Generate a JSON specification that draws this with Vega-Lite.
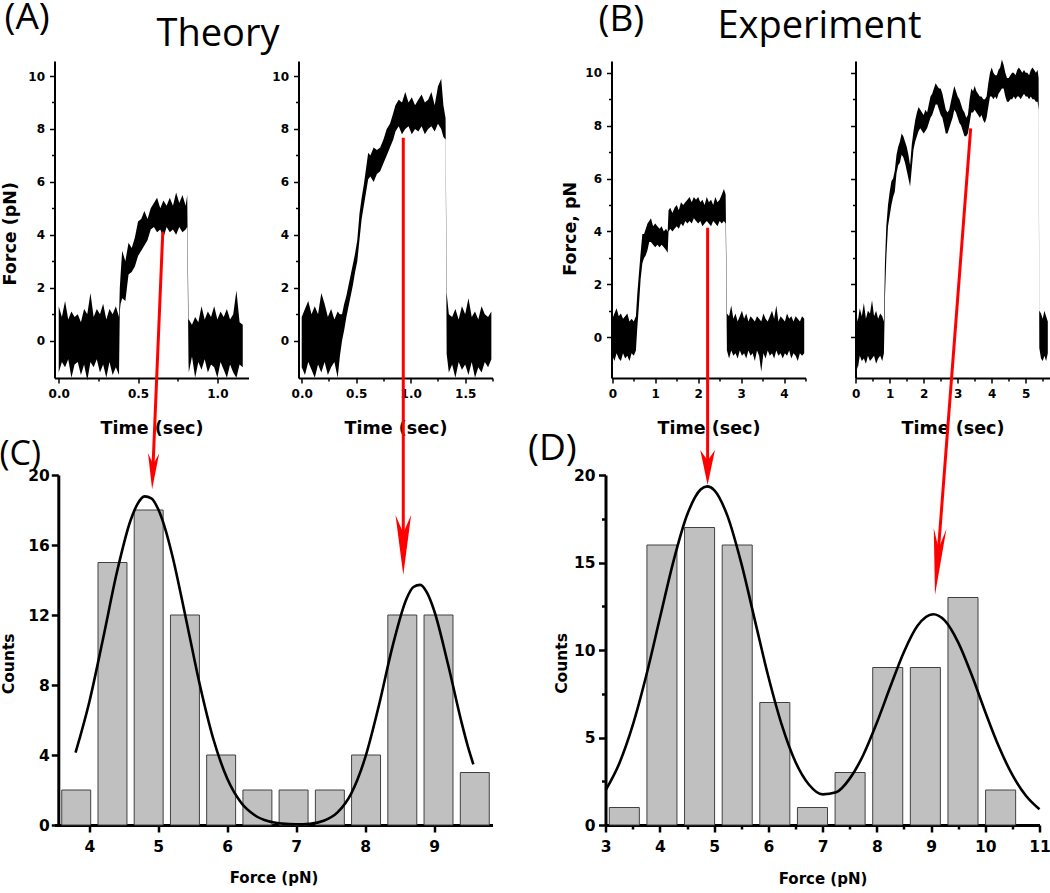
{
  "$schema": "https://vega.github.io/schema/vega-lite/v6.json",
  "autosize": {"type": "none"},
  "padding": {"left": 54.5, "top": 61, "right": 995.5, "bottom": 832},
  "background": "white",
  "config": {
    "view": {"stroke": null},
    "axis": {"domainColor": "black", "tickColor": "black", "labelColor": "black", "titleColor": "black", "labelFont": "DejaVu Sans", "titleFont": "DejaVu Sans", "labelFontWeight": "bold", "titleFontWeight": "bold", "grid": false, "labelFlush": false, "labelOverlap": false, "labelBound": false, "tickCount": 100},
    "title": {"font": "Open Sans", "fontWeight": "normal", "color": "black"}
  },
  "bounds": "flush",
  "spacing": 414,
  "datasets": {
    "a1": [
      {"t":0.00,"lo":-1.2,"hi":1.3},{"t":0.02,"lo":-0.8,"hi":0.9},{"t":0.04,"lo":-1.0,"hi":1.5},{"t":0.06,"lo":-0.7,"hi":0.8},{"t":0.08,"lo":-1.4,"hi":1.1},{"t":0.10,"lo":-0.9,"hi":0.9},{"t":0.12,"lo":-0.8,"hi":1.0},{"t":0.14,"lo":-1.3,"hi":0.7},{"t":0.16,"lo":-0.9,"hi":1.2},{"t":0.18,"lo":-1.5,"hi":1.0},{"t":0.20,"lo":-0.8,"hi":1.8},{"t":0.22,"lo":-1.0,"hi":0.9},{"t":0.24,"lo":-0.7,"hi":1.2},{"t":0.26,"lo":-1.2,"hi":1.0},{"t":0.28,"lo":-0.9,"hi":1.4},{"t":0.30,"lo":-1.4,"hi":0.8},{"t":0.32,"lo":-0.8,"hi":1.2},{"t":0.34,"lo":-1.3,"hi":1.0},{"t":0.36,"lo":-1.0,"hi":1.3},{"t":0.38,"lo":-1.3,"hi":0.9},
      {"t":0.385,"lo":1.1,"hi":2.0},{"t":0.39,"lo":1.4,"hi":2.5},{"t":0.40,"lo":1.6,"hi":3.4},{"t":0.42,"lo":1.5,"hi":3.0},{"t":0.44,"lo":2.5,"hi":3.7},{"t":0.46,"lo":2.6,"hi":3.5},{"t":0.48,"lo":2.8,"hi":3.9},{"t":0.50,"lo":3.2,"hi":4.5},{"t":0.52,"lo":3.4,"hi":4.6},{"t":0.54,"lo":3.6,"hi":4.9},{"t":0.56,"lo":3.8,"hi":4.6},{"t":0.58,"lo":4.2,"hi":5.0},{"t":0.60,"lo":4.3,"hi":5.2},{"t":0.62,"lo":4.1,"hi":5.4},{"t":0.64,"lo":4.2,"hi":5.0},{"t":0.66,"lo":3.9,"hi":5.3},{"t":0.68,"lo":4.3,"hi":5.1},{"t":0.70,"lo":4.1,"hi":5.4},{"t":0.72,"lo":4.2,"hi":5.1},{"t":0.74,"lo":4.0,"hi":5.6},{"t":0.76,"lo":4.3,"hi":5.2},{"t":0.78,"lo":4.1,"hi":5.5},{"t":0.80,"lo":4.2,"hi":5.1},{"t":0.81,"lo":4.3,"hi":5.5},
      {"t":0.818,"lo":-0.8,"hi":0.8},{"t":0.82,"lo":-1.2,"hi":0.8},{"t":0.84,"lo":-0.6,"hi":0.6},{"t":0.86,"lo":-1.4,"hi":0.9},{"t":0.88,"lo":-0.8,"hi":0.7},{"t":0.90,"lo":-1.1,"hi":1.3},{"t":0.92,"lo":-0.7,"hi":0.8},{"t":0.94,"lo":-1.2,"hi":1.1},{"t":0.96,"lo":-0.9,"hi":0.9},{"t":0.98,"lo":-1.0,"hi":1.3},{"t":1.00,"lo":-1.4,"hi":0.8},{"t":1.02,"lo":-0.8,"hi":1.1},{"t":1.04,"lo":-1.1,"hi":0.9},{"t":1.06,"lo":-1.4,"hi":1.2},{"t":1.08,"lo":-0.9,"hi":0.8},{"t":1.10,"lo":-1.2,"hi":1.0},{"t":1.12,"lo":-1.4,"hi":1.9},{"t":1.14,"lo":-0.9,"hi":0.7},{"t":1.16,"lo":-1.0,"hi":0.6}
    ],
    "a2": [
      {"t":0.00,"lo":-1.0,"hi":0.9},{"t":0.03,"lo":-1.3,"hi":1.2},{"t":0.06,"lo":-0.8,"hi":1.5},{"t":0.09,"lo":-1.1,"hi":1.0},{"t":0.12,"lo":-1.4,"hi":1.3},{"t":0.15,"lo":-0.9,"hi":1.0},{"t":0.18,"lo":-1.2,"hi":1.8},{"t":0.21,"lo":-0.8,"hi":1.4},{"t":0.24,"lo":-1.3,"hi":0.9},{"t":0.27,"lo":-1.0,"hi":1.2},{"t":0.30,"lo":-0.8,"hi":0.8},{"t":0.33,"lo":-1.4,"hi":1.1},{"t":0.35,"lo":-0.6,"hi":1.0},
      {"t":0.37,"lo":0.0,"hi":1.0},{"t":0.39,"lo":0.4,"hi":1.4},{"t":0.41,"lo":0.9,"hi":1.7},{"t":0.43,"lo":1.3,"hi":2.1},{"t":0.45,"lo":1.7,"hi":2.5},{"t":0.47,"lo":2.1,"hi":2.9},{"t":0.49,"lo":2.6,"hi":3.3},{"t":0.51,"lo":3.0,"hi":3.8},{"t":0.53,"lo":3.8,"hi":4.8},{"t":0.55,"lo":4.6,"hi":5.4},{"t":0.57,"lo":5.1,"hi":5.9},{"t":0.59,"lo":5.6,"hi":6.5},{"t":0.61,"lo":6.1,"hi":7.1},{"t":0.63,"lo":6.2,"hi":7.0},{"t":0.66,"lo":6.0,"hi":7.3},{"t":0.69,"lo":6.3,"hi":7.2},{"t":0.72,"lo":6.4,"hi":7.3},{"t":0.75,"lo":6.7,"hi":7.6},{"t":0.78,"lo":7.0,"hi":8.0},{"t":0.81,"lo":7.3,"hi":8.2},{"t":0.84,"lo":7.6,"hi":8.6},{"t":0.86,"lo":7.9,"hi":8.9},{"t":0.89,"lo":8.1,"hi":9.1},{"t":0.92,"lo":7.8,"hi":9.0},{"t":0.95,"lo":8.0,"hi":9.4},{"t":0.98,"lo":8.1,"hi":9.0},{"t":1.01,"lo":7.8,"hi":9.2},{"t":1.04,"lo":8.0,"hi":8.9},{"t":1.07,"lo":7.9,"hi":9.1},{"t":1.10,"lo":8.1,"hi":9.3},{"t":1.13,"lo":7.8,"hi":9.0},{"t":1.16,"lo":8.0,"hi":9.1},{"t":1.19,"lo":8.1,"hi":9.4},{"t":1.22,"lo":7.9,"hi":8.9},{"t":1.25,"lo":8.2,"hi":9.6},{"t":1.28,"lo":8.0,"hi":9.9},{"t":1.30,"lo":7.7,"hi":8.9},{"t":1.32,"lo":7.6,"hi":8.4},
      {"t":1.33,"lo":-0.5,"hi":1.8},{"t":1.35,"lo":-1.2,"hi":1.0},{"t":1.38,"lo":-0.9,"hi":0.9},{"t":1.41,"lo":-1.4,"hi":1.2},{"t":1.44,"lo":-0.8,"hi":0.8},{"t":1.47,"lo":-1.1,"hi":1.3},{"t":1.50,"lo":-0.9,"hi":1.0},{"t":1.53,"lo":-1.3,"hi":1.6},{"t":1.56,"lo":-0.8,"hi":0.9},{"t":1.59,"lo":-1.4,"hi":1.1},{"t":1.62,"lo":-1.0,"hi":0.8},{"t":1.65,"lo":-1.2,"hi":1.3},{"t":1.68,"lo":-0.8,"hi":1.0},{"t":1.71,"lo":-1.0,"hi":0.9},{"t":1.74,"lo":-0.7,"hi":1.1}
    ],
    "b1": [
      {"t":0.00,"lo":-0.7,"hi":0.7},{"t":0.05,"lo":-0.9,"hi":0.9},{"t":0.10,"lo":-0.6,"hi":1.1},{"t":0.15,"lo":-0.8,"hi":0.8},{"t":0.20,"lo":-0.9,"hi":0.9},{"t":0.25,"lo":-0.6,"hi":0.7},{"t":0.30,"lo":-0.8,"hi":0.8},{"t":0.35,"lo":-0.7,"hi":0.9},{"t":0.40,"lo":-0.9,"hi":0.6},{"t":0.45,"lo":-0.6,"hi":0.7},{"t":0.50,"lo":-0.7,"hi":0.6},{"t":0.55,"lo":-0.5,"hi":0.8},
      {"t":0.58,"lo":0.3,"hi":1.6},{"t":0.62,"lo":1.2,"hi":2.4},{"t":0.66,"lo":2.2,"hi":3.2},{"t":0.70,"lo":2.8,"hi":3.9},{"t":0.74,"lo":3.0,"hi":3.9},{"t":0.78,"lo":3.1,"hi":4.1},{"t":0.82,"lo":3.3,"hi":4.3},{"t":0.86,"lo":3.6,"hi":4.4},{"t":0.90,"lo":3.6,"hi":4.5},{"t":0.95,"lo":3.5,"hi":4.2},{"t":1.00,"lo":3.4,"hi":4.3},{"t":1.05,"lo":3.5,"hi":4.2},{"t":1.10,"lo":3.4,"hi":4.1},{"t":1.15,"lo":3.5,"hi":4.2},{"t":1.20,"lo":3.4,"hi":4.0},{"t":1.25,"lo":3.3,"hi":4.1},{"t":1.29,"lo":3.2,"hi":4.0},
      {"t":1.31,"lo":4.0,"hi":4.8},{"t":1.35,"lo":4.1,"hi":4.9},{"t":1.40,"lo":4.0,"hi":4.7},{"t":1.45,"lo":4.1,"hi":4.9},{"t":1.50,"lo":4.2,"hi":5.0},{"t":1.55,"lo":4.1,"hi":4.8},{"t":1.60,"lo":4.3,"hi":5.1},{"t":1.65,"lo":4.2,"hi":5.0},{"t":1.70,"lo":4.4,"hi":5.1},{"t":1.75,"lo":4.3,"hi":5.2},{"t":1.80,"lo":4.4,"hi":5.3},{"t":1.85,"lo":4.3,"hi":5.1},{"t":1.90,"lo":4.5,"hi":5.3},{"t":1.95,"lo":4.4,"hi":5.2},{"t":2.00,"lo":4.3,"hi":5.3},{"t":2.05,"lo":4.4,"hi":5.1},{"t":2.10,"lo":4.2,"hi":5.2},{"t":2.15,"lo":4.3,"hi":5.0},{"t":2.20,"lo":4.4,"hi":5.3},{"t":2.25,"lo":4.3,"hi":5.1},{"t":2.30,"lo":4.2,"hi":5.2},{"t":2.35,"lo":4.4,"hi":5.0},{"t":2.40,"lo":4.3,"hi":5.3},{"t":2.45,"lo":4.2,"hi":5.1},{"t":2.50,"lo":4.4,"hi":5.2},{"t":2.55,"lo":4.3,"hi":5.4},{"t":2.60,"lo":4.4,"hi":5.6},{"t":2.64,"lo":4.3,"hi":5.4},
      {"t":2.67,"lo":-0.5,"hi":0.9},{"t":2.72,"lo":-0.8,"hi":0.8},{"t":2.77,"lo":-0.5,"hi":1.2},{"t":2.82,"lo":-0.7,"hi":0.7},{"t":2.87,"lo":-0.6,"hi":0.9},{"t":2.92,"lo":-0.8,"hi":0.6},{"t":2.97,"lo":-0.5,"hi":0.8},{"t":3.02,"lo":-0.7,"hi":1.0},{"t":3.07,"lo":-0.6,"hi":0.7},{"t":3.12,"lo":-0.8,"hi":0.9},{"t":3.17,"lo":-0.5,"hi":0.6},{"t":3.22,"lo":-0.7,"hi":0.8},{"t":3.27,"lo":-0.6,"hi":0.7},{"t":3.32,"lo":-0.9,"hi":0.6},{"t":3.37,"lo":-0.5,"hi":0.8},{"t":3.42,"lo":-0.7,"hi":0.7},{"t":3.47,"lo":-1.3,"hi":0.6},{"t":3.52,"lo":-0.6,"hi":0.9},{"t":3.57,"lo":-0.8,"hi":0.7},{"t":3.62,"lo":-0.5,"hi":0.6},{"t":3.67,"lo":-0.7,"hi":0.8},{"t":3.72,"lo":-0.6,"hi":1.0},{"t":3.77,"lo":-0.8,"hi":0.7},{"t":3.82,"lo":-0.5,"hi":1.2},{"t":3.87,"lo":-0.7,"hi":0.6},{"t":3.92,"lo":-0.6,"hi":0.8},{"t":3.97,"lo":-0.8,"hi":0.7},{"t":4.02,"lo":-0.6,"hi":0.6},{"t":4.07,"lo":-0.7,"hi":0.9},{"t":4.12,"lo":-0.5,"hi":0.7},{"t":4.17,"lo":-0.8,"hi":0.8},{"t":4.22,"lo":-0.6,"hi":0.6},{"t":4.27,"lo":-0.7,"hi":0.8},{"t":4.32,"lo":-0.9,"hi":0.7},{"t":4.37,"lo":-0.6,"hi":0.6},{"t":4.42,"lo":-0.7,"hi":0.8},{"t":4.47,"lo":-0.6,"hi":0.7}
    ],
    "b2": [
      {"t":0.00,"lo":-0.8,"hi":1.0},{"t":0.06,"lo":-1.2,"hi":0.6},{"t":0.12,"lo":-0.7,"hi":1.1},{"t":0.18,"lo":-0.9,"hi":0.8},{"t":0.24,"lo":-0.8,"hi":1.3},{"t":0.30,"lo":-1.0,"hi":0.7},{"t":0.36,"lo":-0.7,"hi":1.0},{"t":0.42,"lo":-0.9,"hi":0.9},{"t":0.48,"lo":-0.8,"hi":1.4},{"t":0.54,"lo":-0.7,"hi":0.8},{"t":0.60,"lo":-1.0,"hi":1.0},{"t":0.66,"lo":-0.8,"hi":0.7},{"t":0.72,"lo":-0.7,"hi":0.9},{"t":0.78,"lo":-0.9,"hi":0.8},{"t":0.83,"lo":-0.6,"hi":0.6},
      {"t":0.86,"lo":1.5,"hi":2.8},{"t":0.90,"lo":3.0,"hi":4.2},{"t":0.95,"lo":4.2,"hi":5.0},{"t":1.00,"lo":4.6,"hi":5.5},{"t":1.05,"lo":5.0,"hi":5.9},{"t":1.10,"lo":5.3,"hi":6.0},{"t":1.15,"lo":5.5,"hi":6.3},{"t":1.20,"lo":6.2,"hi":6.9},{"t":1.25,"lo":6.5,"hi":7.2},{"t":1.30,"lo":6.6,"hi":7.4},{"t":1.35,"lo":6.9,"hi":7.7},{"t":1.40,"lo":6.8,"hi":7.6},{"t":1.45,"lo":6.6,"hi":7.4},{"t":1.50,"lo":6.3,"hi":7.2},{"t":1.55,"lo":6.0,"hi":6.9},{"t":1.60,"lo":5.7,"hi":6.5},{"t":1.65,"lo":6.4,"hi":7.3},{"t":1.70,"lo":7.1,"hi":7.8},{"t":1.75,"lo":7.4,"hi":8.2},{"t":1.80,"lo":7.6,"hi":8.5},{"t":1.85,"lo":7.8,"hi":8.7},{"t":1.90,"lo":7.9,"hi":8.6},{"t":1.95,"lo":7.8,"hi":8.5},{"t":2.00,"lo":7.7,"hi":8.4},{"t":2.05,"lo":7.8,"hi":8.6},{"t":2.10,"lo":7.9,"hi":8.5},{"t":2.15,"lo":8.1,"hi":8.8},{"t":2.20,"lo":8.3,"hi":9.1},{"t":2.25,"lo":8.4,"hi":9.2},{"t":2.30,"lo":8.6,"hi":9.4},{"t":2.35,"lo":8.8,"hi":9.6},{"t":2.40,"lo":8.8,"hi":9.5},{"t":2.45,"lo":8.6,"hi":9.4},{"t":2.50,"lo":8.4,"hi":9.4},{"t":2.55,"lo":8.3,"hi":9.2},{"t":2.60,"lo":8.0,"hi":8.9},{"t":2.65,"lo":7.7,"hi":8.6},{"t":2.70,"lo":7.7,"hi":8.5},{"t":2.75,"lo":7.9,"hi":8.6},{"t":2.80,"lo":8.1,"hi":8.9},{"t":2.85,"lo":8.3,"hi":9.2},{"t":2.90,"lo":8.6,"hi":9.5},{"t":2.95,"lo":8.5,"hi":9.3},{"t":3.00,"lo":8.3,"hi":9.1},{"t":3.05,"lo":8.1,"hi":9.0},{"t":3.10,"lo":8.0,"hi":8.8},{"t":3.15,"lo":7.8,"hi":8.6},{"t":3.20,"lo":7.6,"hi":8.5},{"t":3.25,"lo":7.6,"hi":8.3},{"t":3.30,"lo":7.7,"hi":8.4},{"t":3.35,"lo":8.1,"hi":9.0},{"t":3.40,"lo":8.5,"hi":9.4},{"t":3.45,"lo":8.5,"hi":9.3},{"t":3.50,"lo":8.6,"hi":9.5},{"t":3.55,"lo":8.5,"hi":9.3},{"t":3.60,"lo":8.4,"hi":9.2},{"t":3.65,"lo":8.3,"hi":9.1},{"t":3.70,"lo":8.4,"hi":9.1},{"t":3.75,"lo":8.2,"hi":9.0},{"t":3.80,"lo":8.1,"hi":9.0},{"t":3.85,"lo":8.3,"hi":9.1},{"t":3.90,"lo":8.7,"hi":9.6},{"t":3.95,"lo":9.1,"hi":10.0},{"t":4.00,"lo":9.1,"hi":10.2},{"t":4.05,"lo":9.0,"hi":10.0},{"t":4.10,"lo":9.1,"hi":9.9},{"t":4.15,"lo":9.0,"hi":9.9},{"t":4.20,"lo":9.2,"hi":10.1},{"t":4.25,"lo":9.3,"hi":10.2},{"t":4.30,"lo":9.4,"hi":10.5},{"t":4.35,"lo":9.4,"hi":10.3},{"t":4.40,"lo":9.1,"hi":10.0},{"t":4.45,"lo":8.9,"hi":9.8},{"t":4.50,"lo":8.9,"hi":9.8},{"t":4.55,"lo":9.0,"hi":9.9},{"t":4.60,"lo":9.0,"hi":10.0},{"t":4.65,"lo":9.1,"hi":10.0},{"t":4.70,"lo":9.0,"hi":9.9},{"t":4.75,"lo":9.1,"hi":10.1},{"t":4.80,"lo":9.1,"hi":10.2},{"t":4.85,"lo":9.0,"hi":10.1},{"t":4.90,"lo":9.1,"hi":10.0},{"t":4.95,"lo":9.2,"hi":10.1},{"t":5.00,"lo":9.1,"hi":10.0},{"t":5.05,"lo":9.1,"hi":10.0},{"t":5.10,"lo":9.0,"hi":9.9},{"t":5.15,"lo":9.1,"hi":10.1},{"t":5.20,"lo":9.0,"hi":10.2},{"t":5.25,"lo":9.0,"hi":10.1},{"t":5.30,"lo":8.9,"hi":10.0},{"t":5.35,"lo":8.9,"hi":10.1},{"t":5.38,"lo":8.6,"hi":9.8},
      {"t":5.40,"lo":-0.4,"hi":1.0},{"t":5.45,"lo":-0.8,"hi":0.9},{"t":5.50,"lo":-0.9,"hi":0.7},{"t":5.55,"lo":-0.7,"hi":1.0},{"t":5.60,"lo":-0.9,"hi":0.8},{"t":5.65,"lo":-0.6,"hi":0.6}
    ],
    "arrA1": [{"t0":0.656,"f0":4.12,"t1":0.593,"f1":-4.94,"tt":0.5886,"ft":-5.614}],
    "arrA2": [{"t0":0.932,"f0":7.67,"t1":0.932,"f1":-7.72,"tt":0.932,"ft":-8.85}],
    "arrB1": [{"t0":2.22,"f0":4.14,"t1":2.22,"f1":-4.94,"tt":2.22,"ft":-5.58}],
    "arrB2": [{"t0":3.382,"f0":7.90,"t1":2.406,"f1":-8.49,"tt":2.332,"ft":-9.74}],
    "histC": [
      {"x0":3.600,"x1":4.020,"count":2},{"x0":4.126,"x1":4.546,"count":15},{"x0":4.651,"x1":5.071,"count":18},{"x0":5.177,"x1":5.597,"count":12},{"x0":5.702,"x1":6.122,"count":4},{"x0":6.228,"x1":6.648,"count":2},{"x0":6.753,"x1":7.173,"count":2},{"x0":7.279,"x1":7.699,"count":2},{"x0":7.804,"x1":8.224,"count":4},{"x0":8.330,"x1":8.750,"count":12},{"x0":8.855,"x1":9.275,"count":12},{"x0":9.381,"x1":9.801,"count":3}
    ],
    "fitC": [
      {"force":3.8,"fit":4.13},{"force":4.0,"fit":7.03},{"force":4.2,"fit":10.66},{"force":4.4,"fit":14.44},{"force":4.6,"fit":17.43},{"force":4.7,"fit":18.35},{"force":4.8,"fit":18.78},{"force":4.9,"fit":18.67},{"force":5.0,"fit":18.04},{"force":5.1,"fit":16.94},{"force":5.2,"fit":15.46},{"force":5.4,"fit":11.82},{"force":5.6,"fit":8.06},{"force":5.8,"fit":4.90},{"force":6.0,"fit":2.66},{"force":6.2,"fit":1.29},{"force":6.4,"fit":0.56},{"force":6.6,"fit":0.21},{"force":6.8,"fit":0.08},{"force":7.0,"fit":0.04},{"force":7.2,"fit":0.07},{"force":7.4,"fit":0.24},{"force":7.6,"fit":0.72},{"force":7.8,"fit":1.81},{"force":8.0,"fit":3.83},{"force":8.2,"fit":6.83},{"force":8.4,"fit":10.24},{"force":8.6,"fit":12.92},{"force":8.7,"fit":13.60},{"force":8.8,"fit":13.72},{"force":8.9,"fit":13.26},{"force":9.0,"fit":12.27},{"force":9.2,"fit":9.23},{"force":9.4,"fit":5.85},{"force":9.5,"fit":4.36},{"force":9.57,"fit":3.47}
    ],
    "histD": [
      {"x0":3.066,"x1":3.620,"count":1},{"x0":3.760,"x1":4.314,"count":16},{"x0":4.454,"x1":5.008,"count":17},{"x0":5.148,"x1":5.702,"count":16},{"x0":5.842,"x1":6.396,"count":7},{"x0":6.536,"x1":7.090,"count":1},{"x0":7.230,"x1":7.784,"count":3},{"x0":7.924,"x1":8.478,"count":9},{"x0":8.618,"x1":9.172,"count":9},{"x0":9.312,"x1":9.866,"count":13},{"x0":10.006,"x1":10.560,"count":2}
    ],
    "fitD": [
      {"force":3.0,"fit":2.00},{"force":3.25,"fit":3.52},{"force":3.5,"fit":5.72},{"force":3.75,"fit":8.57},{"force":4.0,"fit":11.84},{"force":4.25,"fit":15.08},{"force":4.5,"fit":17.71},{"force":4.75,"fit":19.17},{"force":4.87,"fit":19.35},{"force":5.0,"fit":19.14},{"force":5.25,"fit":17.62},{"force":5.5,"fit":14.96},{"force":5.75,"fit":11.71},{"force":6.0,"fit":8.47},{"force":6.25,"fit":5.69},{"force":6.5,"fit":3.60},{"force":6.75,"fit":2.30},{"force":7.0,"fit":1.75},{"force":7.25,"fit":1.87},{"force":7.5,"fit":2.65},{"force":7.75,"fit":4.00},{"force":8.0,"fit":5.84},{"force":8.25,"fit":7.91},{"force":8.5,"fit":9.89},{"force":8.75,"fit":11.38},{"force":9.04,"fit":12.04},{"force":9.25,"fit":11.69},{"force":9.5,"fit":10.44},{"force":9.75,"fit":8.57},{"force":10.0,"fit":6.46},{"force":10.25,"fit":4.48},{"force":10.5,"fit":2.86},{"force":10.75,"fit":1.67},{"force":11.0,"fit":0.90}
    ]
  },
  "vconcat": [
    {
      "hconcat": [
        {
          "width": 194, "height": 317,
          "title": {"text": "(A)", "anchor": "start", "frame": "group", "dx": -50, "offset": -5.4, "baseline": "alphabetic", "fontSize": 37},
          "layer": [
            {"data": {"name": "a1"}, "mark": {"type": "area", "color": "black", "interpolate": "linear"},
             "encoding": {
               "x": {"field": "t", "type": "quantitative", "scale": {"domain": [-0.0266, 1.1962], "nice": false, "zero": false},
                     "axis": {"title": "Time (sec)", "values": [0, 0.25, 0.5, 0.75, 1], "tickCount": 100, "format": ".1f", "labelExpr": "(datum.value*4)%2===0 ? datum.label : ''", "labelOverlap": false, "tickSize": {"condition": {"test": "(datum.value*4)%2===0", "value": 5}, "value": 3}, "labelPadding": 5, "labelFontSize": 12, "titleFontSize": 17.5, "titleY": 55.3, "titleBaseline": "alphabetic", "domainWidth": 2, "tickWidth": 1.5}},
               "y": {"field": "lo", "type": "quantitative", "scale": {"domain": [-1.409, 10.567], "nice": false, "zero": false},
                     "axis": {"title": "Force (pN)", "values": [0,1,2,3,4,5,6,7,8,9,10], "tickCount": 100, "format": ".0f", "labelExpr": "datum.value%2===0 ? datum.label : ''", "labelOverlap": false, "tickSize": {"condition": {"test": "datum.value%2===0", "value": 5}, "value": 3}, "labelPadding": 5, "labelFontSize": 12, "titleFontSize": 17.5, "titleX": -39.5, "titleY": 172.3, "titleAngle": 270, "titleAlign": "center", "titleBaseline": "alphabetic", "domainWidth": 2, "tickWidth": 1.5}},
               "y2": {"field": "hi"}
             }},
            {"data": {"name": "arrA1"}, "mark": {"type": "rule", "color": "#ff0000", "strokeWidth": 3},
             "encoding": {"x": {"field": "t0", "type": "quantitative"}, "y": {"field": "f0", "type": "quantitative"}, "x2": {"field": "t1"}, "y2": {"field": "f1"}}},
            {"data": {"name": "arrA1"}, "mark": {"type": "point", "shape": "M0,0L-0.31,-2L0,-1.4L0.31,-2Z", "size": 1296, "angle": 2.36, "filled": true, "color": "#ff0000", "opacity": 1, "strokeWidth": 0},
             "encoding": {"x": {"field": "tt", "type": "quantitative"}, "y": {"field": "ft", "type": "quantitative"}}}
          ]
        },
        {
          "width": 194, "height": 317,
          "title": {"text": "Theory", "anchor": "start", "frame": "group", "dx": -142, "offset": -22.6, "baseline": "alphabetic", "fontSize": 38},
          "layer": [
            {"data": {"name": "a2"}, "mark": {"type": "area", "color": "black", "interpolate": "linear"},
             "encoding": {
               "x": {"field": "t", "type": "quantitative", "scale": {"domain": [-0.0294, 1.7505], "nice": false, "zero": false},
                     "axis": {"title": "Time (sec)", "values": [0, 0.25, 0.5, 0.75, 1, 1.25, 1.5, 1.75], "tickCount": 100, "format": ".1f", "labelExpr": "(datum.value*4)%2===0 ? datum.label : ''", "labelOverlap": false, "tickSize": {"condition": {"test": "(datum.value*4)%2===0", "value": 5}, "value": 3}, "labelPadding": 5, "labelFontSize": 12, "titleFontSize": 17.5, "titleY": 55.3, "titleBaseline": "alphabetic", "domainWidth": 2, "tickWidth": 1.5}},
               "y": {"field": "lo", "type": "quantitative", "scale": {"domain": [-1.409, 10.567], "nice": false, "zero": false},
                     "axis": {"title": null, "values": [0,1,2,3,4,5,6,7,8,9,10], "tickCount": 100, "format": ".0f", "labelExpr": "datum.value%2===0 ? datum.label : ''", "labelOverlap": false, "tickSize": {"condition": {"test": "datum.value%2===0", "value": 5}, "value": 3}, "labelPadding": 5, "labelFontSize": 12, "domainWidth": 2, "tickWidth": 1.5}},
               "y2": {"field": "hi"}
             }},
            {"data": {"name": "arrA2"}, "mark": {"type": "rule", "color": "#ff0000", "strokeWidth": 3},
             "encoding": {"x": {"field": "t0", "type": "quantitative"}, "y": {"field": "f0", "type": "quantitative"}, "x2": {"field": "t1"}, "y2": {"field": "f1"}}},
            {"data": {"name": "arrA2"}, "mark": {"type": "point", "shape": "M0,0L-0.26,-2L0,-1.4L0.26,-2Z", "size": 3600, "angle": 0, "filled": true, "color": "#ff0000", "opacity": 1, "strokeWidth": 0},
             "encoding": {"x": {"field": "tt", "type": "quantitative"}, "y": {"field": "ft", "type": "quantitative"}}}
          ]
        },
        {
          "width": 19, "height": 317,
          "data": {"values": []},
          "mark": "point"
        },
        {
          "width": 194, "height": 317,
          "title": {"text": "(B)", "anchor": "start", "frame": "group", "dx": -13, "offset": -6.7, "baseline": "alphabetic", "fontSize": 37},
          "layer": [
            {"data": {"name": "b1"}, "mark": {"type": "area", "color": "black", "interpolate": "linear"},
             "encoding": {
               "x": {"field": "t", "type": "quantitative", "scale": {"domain": [-0.0186, 4.5], "nice": false, "zero": false},
                     "axis": {"title": "Time (sec)", "values": [0, 0.5, 1, 1.5, 2, 2.5, 3, 3.5, 4, 4.5], "tickCount": 100, "format": ".0f", "labelExpr": "datum.value%1===0 ? datum.label : ''", "labelOverlap": false, "tickSize": {"condition": {"test": "datum.value%1===0", "value": 5}, "value": 3}, "labelPadding": 5, "labelFontSize": 12, "titleFontSize": 17.5, "titleY": 55.3, "titleBaseline": "alphabetic", "domainWidth": 2, "tickWidth": 1.5}},
               "y": {"field": "lo", "type": "quantitative", "scale": {"domain": [-1.538, 10.442], "nice": false, "zero": false},
                     "axis": {"title": "Force, pN", "values": [0,1,2,3,4,5,6,7,8,9,10], "tickCount": 100, "format": ".0f", "labelExpr": "datum.value%2===0 ? datum.label : ''", "labelOverlap": false, "tickSize": {"condition": {"test": "datum.value%2===0", "value": 5}, "value": 3}, "labelPadding": 5, "labelFontSize": 12, "titleFontSize": 17.5, "titleX": -36.5, "titleY": 167.3, "titleAngle": 270, "titleAlign": "center", "titleBaseline": "alphabetic", "domainWidth": 2, "tickWidth": 1.5}},
               "y2": {"field": "hi"}
             }},
            {"data": {"name": "arrB1"}, "mark": {"type": "rule", "color": "#ff0000", "strokeWidth": 3},
             "encoding": {"x": {"field": "t0", "type": "quantitative"}, "y": {"field": "f0", "type": "quantitative"}, "x2": {"field": "t1"}, "y2": {"field": "f1"}}},
            {"data": {"name": "arrB1"}, "mark": {"type": "point", "shape": "M0,0L-0.42,-2L0,-1.4L0.42,-2Z", "size": 1225, "angle": 0, "filled": true, "color": "#ff0000", "opacity": 1, "strokeWidth": 0},
             "encoding": {"x": {"field": "tt", "type": "quantitative"}, "y": {"field": "ft", "type": "quantitative"}}}
          ]
        },
        {
          "width": 194, "height": 317,
          "title": {"text": "Experiment", "anchor": "start", "frame": "group", "dx": -138, "offset": -17, "baseline": "alphabetic", "fontSize": 38},
          "layer": [
            {"data": {"name": "b2"}, "mark": {"type": "area", "color": "black", "interpolate": "linear"},
             "encoding": {
               "x": {"field": "t", "type": "quantitative", "scale": {"domain": [-0.006, 5.7], "nice": false, "zero": false},
                     "axis": {"title": "Time (sec)", "values": [0, 0.5, 1, 1.5, 2, 2.5, 3, 3.5, 4, 4.5, 5, 5.5], "tickCount": 100, "format": ".0f", "labelExpr": "datum.value%1===0 ? datum.label : ''", "labelOverlap": false, "tickSize": {"condition": {"test": "datum.value%1===0", "value": 5}, "value": 3}, "labelPadding": 5, "labelFontSize": 12, "titleFontSize": 17.5, "titleY": 55.3, "titleBaseline": "alphabetic", "domainWidth": 2, "tickWidth": 1.5}},
               "y": {"field": "lo", "type": "quantitative", "scale": {"domain": [-1.538, 10.442], "nice": false, "zero": false},
                     "axis": {"title": null, "values": [0,1,2,3,4,5,6,7,8,9,10], "tickCount": 100, "labels": false, "tickSize": {"condition": {"test": "datum.value%2===0", "value": 5}, "value": 3}, "domainWidth": 2, "tickWidth": 1.5}},
               "y2": {"field": "hi"}
             }},
            {"data": {"name": "arrB2"}, "mark": {"type": "rule", "color": "#ff0000", "strokeWidth": 3},
             "encoding": {"x": {"field": "t0", "type": "quantitative"}, "y": {"field": "f0", "type": "quantitative"}, "x2": {"field": "t1"}, "y2": {"field": "f1"}}},
            {"data": {"name": "arrB2"}, "mark": {"type": "point", "shape": "M0,0L-0.19,-2L0,-1.4L0.19,-2Z", "size": 4449, "angle": 4.37, "filled": true, "color": "#ff0000", "opacity": 1, "strokeWidth": 0},
             "encoding": {"x": {"field": "tt", "type": "quantitative"}, "y": {"field": "ft", "type": "quantitative"}}}
          ]
        }
      ],
      "spacing": 50,
      "bounds": "flush"
    },
    {
      "hconcat": [
        {
          "width": 438, "height": 350,
          "title": {"text": "(C)", "anchor": "start", "frame": "group", "dx": -55, "offset": -31, "baseline": "alphabetic", "fontSize": 34},
          "layer": [
            {"data": {"name": "histC"}, "mark": {"type": "rect", "fill": "#c0c0c0", "stroke": "#404040", "strokeWidth": 1},
             "encoding": {
               "x": {"field": "x0", "type": "quantitative", "scale": {"domain": [3.495, 9.848], "nice": false, "zero": false},
                     "axis": {"title": "Force (pN)", "values": [4,5,6,7,8,9], "tickCount": 100, "format": ".0f", "labelOverlap": false, "tickSize": 7, "labelPadding": 7, "labelFontSize": 15.5, "titleFontSize": 15, "titleY": 57, "titleBaseline": "alphabetic", "domainWidth": 3, "tickWidth": 2.5}},
               "x2": {"field": "x1"},
               "y": {"field": "count", "type": "quantitative", "scale": {"domain": [0, 20], "nice": false},
                     "axis": {"title": "Counts", "values": [0,4,8,12,16,20], "tickCount": 100, "format": ".0f", "labelOverlap": false, "offset": -3.8, "tickSize": 7, "labelPadding": 2, "labelFontSize": 15.5, "titleFontSize": 15.5, "titleX": -45.3, "titleY": 188.3, "titleAngle": 270, "titleAlign": "center", "titleBaseline": "alphabetic", "domainWidth": 3, "tickWidth": 2.5}},
               "y2": {"datum": 0}
             }},
            {"data": {"name": "fitC"}, "mark": {"type": "line", "color": "black", "strokeWidth": 2.6, "interpolate": "monotone"},
             "encoding": {"x": {"field": "force", "type": "quantitative"}, "y": {"field": "fit", "type": "quantitative"}}}
          ]
        },
        {
          "width": 13, "height": 350,
          "data": {"values": []},
          "mark": "point"
        },
        {
          "width": 434, "height": 350,
          "title": {"text": "(D)", "anchor": "start", "frame": "group", "dx": -77.5, "offset": -28.9, "baseline": "alphabetic", "fontSize": 37},
          "layer": [
            {"data": {"name": "histD"}, "mark": {"type": "rect", "fill": "#c0c0c0", "stroke": "#404040", "strokeWidth": 1},
             "encoding": {
               "x": {"field": "x0", "type": "quantitative", "scale": {"domain": [2.996, 11.0], "nice": false, "zero": false},
                     "axis": {"title": "Force (pN)", "values": [3,3.5,4,4.5,5,5.5,6,6.5,7,7.5,8,8.5,9,9.5,10,10.5,11], "tickCount": 100, "format": ".0f", "labelExpr": "datum.value%1===0 ? datum.label : ''", "labelOverlap": false, "tickSize": {"condition": {"test": "datum.value%1===0", "value": 7}, "value": 4}, "labelPadding": 7, "labelFontSize": 15.5, "titleFontSize": 15, "titleY": 58, "titleBaseline": "alphabetic", "domainWidth": 3, "tickWidth": 2.5}},
               "x2": {"field": "x1"},
               "y": {"field": "count", "type": "quantitative", "scale": {"domain": [0, 20], "nice": false},
                     "axis": {"title": "Counts", "values": [0,2.5,5,7.5,10,12.5,15,17.5,20], "tickCount": 100, "format": ".0f", "labelExpr": "datum.value%5===0 ? datum.label : ''", "labelOverlap": false, "tickSize": {"condition": {"test": "datum.value%5===0", "value": 7}, "value": 4}, "labelPadding": 3.5, "labelFontSize": 15.5, "titleFontSize": 15.5, "titleX": -39.2, "titleY": 188, "titleAngle": 270, "titleAlign": "center", "titleBaseline": "alphabetic", "domainWidth": 3, "tickWidth": 2.5}},
               "y2": {"datum": 0}
             }},
            {"data": {"name": "fitD"}, "mark": {"type": "line", "color": "black", "strokeWidth": 2.6, "interpolate": "monotone"},
             "encoding": {"x": {"field": "force", "type": "quantitative"}, "y": {"field": "fit", "type": "quantitative"}}}
          ]
        }
      ],
      "spacing": 50,
      "bounds": "flush"
    }
  ]
}
